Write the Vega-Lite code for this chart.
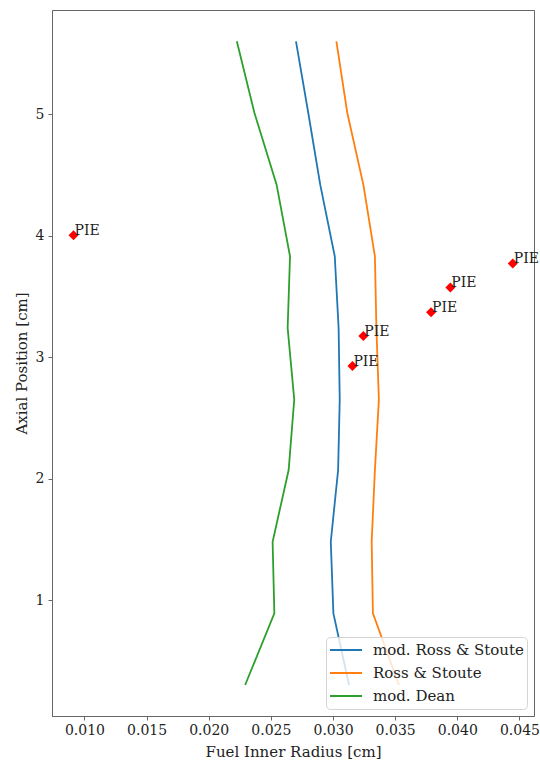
{
  "$schema": "https://vega.github.io/schema/vega-lite/v6.json",
  "width": 482,
  "height": 706,
  "autosize": {"type": "none"},
  "padding": {"left": 52, "top": 10, "right": 6, "bottom": 44},
  "background": "white",
  "config": {
    "font": "DejaVu Serif",
    "view": {"stroke": "#666", "strokeWidth": 1},
    "axis": {
      "labelFont": "DejaVu Serif",
      "titleFont": "DejaVu Serif",
      "labelFontSize": 14,
      "titleFontSize": 15,
      "titleFontWeight": "normal",
      "labelColor": "#222",
      "titleColor": "#222",
      "domainColor": "#666",
      "tickColor": "#666",
      "tickSize": 4,
      "grid": false
    },
    "legend": {
      "labelFont": "DejaVu Serif",
      "labelFontSize": 15,
      "labelColor": "#222",
      "symbolType": "stroke",
      "symbolStrokeWidth": 2,
      "symbolSize": 1024,
      "clipHeight": 20,
      "fillColor": "rgba(255,255,255,0.8)",
      "strokeColor": "#d4d4d4",
      "cornerRadius": 4,
      "padding": 3,
      "rowPadding": 3,
      "labelOffset": 10
    }
  },
  "datasets": {
    "profiles": [
      {"model": "mod. Ross & Stoute", "z": 0.30, "r": 0.03129},
      {"model": "mod. Ross & Stoute", "z": 0.89, "r": 0.03003},
      {"model": "mod. Ross & Stoute", "z": 1.48, "r": 0.02982},
      {"model": "mod. Ross & Stoute", "z": 2.07, "r": 0.03041},
      {"model": "mod. Ross & Stoute", "z": 2.65, "r": 0.03054},
      {"model": "mod. Ross & Stoute", "z": 3.24, "r": 0.03045},
      {"model": "mod. Ross & Stoute", "z": 3.83, "r": 0.03014},
      {"model": "mod. Ross & Stoute", "z": 4.42, "r": 0.02897},
      {"model": "mod. Ross & Stoute", "z": 5.01, "r": 0.02801},
      {"model": "mod. Ross & Stoute", "z": 5.60, "r": 0.02702},
      {"model": "Ross & Stoute", "z": 0.30, "r": 0.03530},
      {"model": "Ross & Stoute", "z": 0.89, "r": 0.03321},
      {"model": "Ross & Stoute", "z": 1.48, "r": 0.03311},
      {"model": "Ross & Stoute", "z": 2.07, "r": 0.03337},
      {"model": "Ross & Stoute", "z": 2.65, "r": 0.03369},
      {"model": "Ross & Stoute", "z": 3.24, "r": 0.03349},
      {"model": "Ross & Stoute", "z": 3.83, "r": 0.03337},
      {"model": "Ross & Stoute", "z": 4.42, "r": 0.03244},
      {"model": "Ross & Stoute", "z": 5.01, "r": 0.03115},
      {"model": "Ross & Stoute", "z": 5.60, "r": 0.03027},
      {"model": "mod. Dean", "z": 0.30, "r": 0.02293},
      {"model": "mod. Dean", "z": 0.89, "r": 0.02528},
      {"model": "mod. Dean", "z": 1.48, "r": 0.02514},
      {"model": "mod. Dean", "z": 2.07, "r": 0.02643},
      {"model": "mod. Dean", "z": 2.65, "r": 0.02688},
      {"model": "mod. Dean", "z": 3.24, "r": 0.02635},
      {"model": "mod. Dean", "z": 3.83, "r": 0.02654},
      {"model": "mod. Dean", "z": 4.42, "r": 0.02546},
      {"model": "mod. Dean", "z": 5.01, "r": 0.02368},
      {"model": "mod. Dean", "z": 5.60, "r": 0.02226}
    ],
    "pie": [
      {"label": "PIE", "r": 0.00912, "z": 4.004},
      {"label": "PIE", "r": 0.04446, "z": 3.771},
      {"label": "PIE", "r": 0.03944, "z": 3.574},
      {"label": "PIE", "r": 0.03789, "z": 3.370},
      {"label": "PIE", "r": 0.03244, "z": 3.173},
      {"label": "PIE", "r": 0.03156, "z": 2.926}
    ]
  },
  "layer": [
    {
      "data": {"name": "profiles"},
      "mark": {"type": "line", "strokeWidth": 1.8},
      "encoding": {
        "x": {
          "field": "r",
          "type": "quantitative",
          "scale": {"domain": [0.00739, 0.04617], "nice": false, "zero": false},
          "axis": {
            "title": "Fuel Inner Radius [cm]",
            "values": [0.01, 0.015, 0.02, 0.025, 0.03, 0.035, 0.04, 0.045],
            "format": ".3f",
            "labelPadding": 3,
            "titlePadding": 7
          }
        },
        "y": {
          "field": "z",
          "type": "quantitative",
          "scale": {"domain": [0.045, 5.858], "nice": false, "zero": false},
          "axis": {
            "title": "Axial Position [cm]",
            "values": [1, 2, 3, 4, 5],
            "format": "d",
            "labelPadding": 4,
            "titlePadding": 6
          }
        },
        "color": {
          "field": "model",
          "type": "nominal",
          "scale": {
            "domain": ["mod. Ross & Stoute", "Ross & Stoute", "mod. Dean"],
            "range": ["#1f77b4", "#ff7f0e", "#2ca02c"]
          },
          "legend": {"title": null, "orient": "bottom-right", "offset": 7}
        },
        "order": {"field": "z", "type": "quantitative"}
      }
    },
    {
      "data": {"name": "pie"},
      "mark": {"type": "point", "shape": "diamond", "filled": true, "size": 100, "color": "red", "opacity": 1},
      "encoding": {
        "x": {"field": "r", "type": "quantitative"},
        "y": {"field": "z", "type": "quantitative"}
      }
    },
    {
      "data": {"name": "pie"},
      "mark": {"type": "text", "align": "left", "baseline": "alphabetic", "dx": 1, "fontSize": 14, "color": "#222"},
      "encoding": {
        "x": {"field": "r", "type": "quantitative"},
        "y": {"field": "z", "type": "quantitative"},
        "text": {"field": "label"}
      }
    }
  ]
}
